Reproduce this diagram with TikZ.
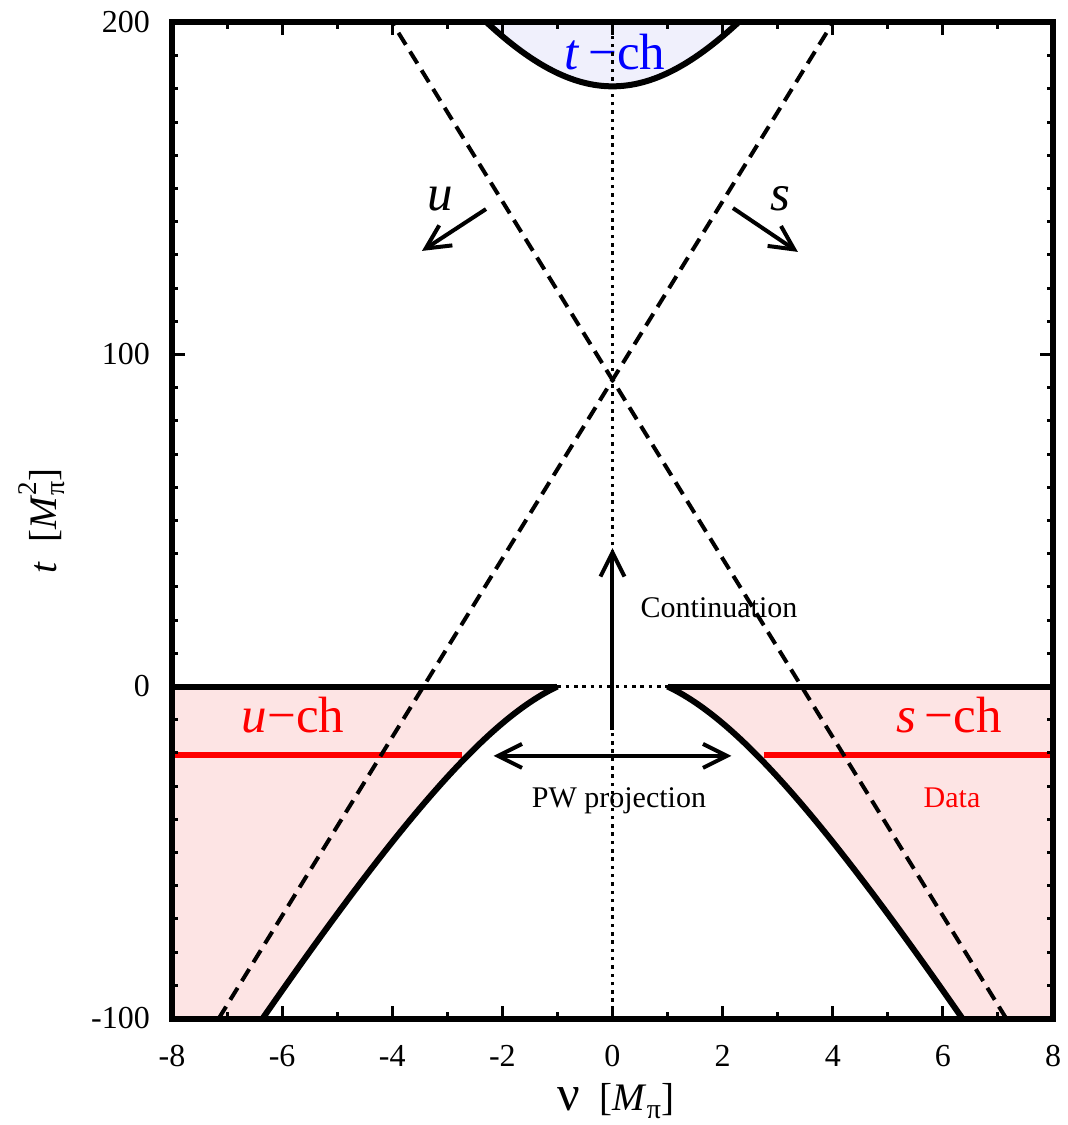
\documentclass[tikz,border=0pt]{standalone}
\usepackage{fontspec}
\setmainfont{Liberation Serif}
\usetikzlibrary{arrows.meta}
\definecolor{pinkfill}{RGB}{253,228,228}
\definecolor{bluefill}{RGB}{240,240,252}
\begin{document}
\begin{tikzpicture}[x=55.0625pt,y=3.32pt,line join=miter,
  bnd/.style={line width=6pt},
  dsh/.style={line width=4pt,dash pattern=on 14pt off 8pt},
  dtt/.style={line width=3.5pt,dash pattern=on 3.5pt off 4.8pt},
  arr/.style={line width=4pt,-{Straight Barb[length=24pt,width=24pt,line width=4pt]}},
  dblarr/.style={line width=4pt,{Straight Barb[length=24pt,width=24pt,line width=4pt]}-{Straight Barb[length=24pt,width=24pt,line width=4pt]}},
  ticklab/.style={inner sep=0pt,font=\fontsize{32}{32}\selectfont},
  chlab/.style={inner sep=0pt,anchor=base,font=\fontsize{51}{51}\selectfont},
  smalllab/.style={inner sep=0pt,anchor=base,font=\fontsize{30}{30}\selectfont},
  axlab/.style={inner sep=0pt,font=\fontsize{39}{39}\selectfont},
  redline/.style={red,line width=5.5pt},
  axisline/.style={line width=6pt}]
\useasboundingbox (-11.1237,-132.078) rectangle (8.2724,206.777);

\begin{scope}
\clip (-8,-100) rectangle (8,200);
% fills
\fill[pinkfill] (1,0) -- (8,0) -- (8,-100) -- (6.355,-100)
  -- plot[domain=6.355:1,samples=80] (\x,{92.386-2*sqrt(1953.0+180.77*\x*\x)}) -- cycle;
\fill[pinkfill] (-1,0) -- (-8,0) -- (-8,-100) -- (-6.355,-100)
  -- plot[domain=-6.355:-1,samples=80] (\x,{92.386-2*sqrt(1953.0+180.77*\x*\x)}) -- cycle;
\fill[bluefill] plot[domain=-2.35:2.35,samples=80] (\x,{92.386+2*sqrt(1953.0+180.77*\x*\x)}) -- cycle;

% texts
\node[chlab,blue] (tch) at (0.045,185.7) {\textit{t}\,−ch};
\node[chlab,red] (uch) at (-5.803,-14.0) {\textit{u}−ch};
\node[chlab,red] (sch) at (6.111,-14.0) {\textit{s}\,−ch};
\node[smalllab,red] (data) at (6.166,-36.3) {Data};
\node[smalllab] (pw) at (0.118,-36.3) {PW projection};
\node[smalllab] (cont) at (1.934,20.9) {Continuation};
\node[chlab] (ul) at (-3.133,143.5) {\textit{u}};
\node[chlab] (sl) at (3.042,143.5) {\textit{s}};

% red data lines
\draw[redline] (-8,-20.7) -- (-2.74,-20.7);
\draw[redline] (2.75,-20.7) -- (8,-20.7);

% dashed lines s=0, u=0
\draw[dsh] (-7.151,-100) -- (4.0025,200);
\draw[dsh] (7.151,-100) -- (-4.0025,200);

% dotted lines
\draw[dtt] (0,-100) -- (0,200);
\draw[dtt] (-1,0) -- (1,0);

% boundaries
\draw[bnd] plot[domain=1:6.6,samples=80] (\x,{92.386-2*sqrt(1953.0+180.77*\x*\x)});
\draw[bnd] plot[domain=-6.6:-1,samples=80] (\x,{92.386-2*sqrt(1953.0+180.77*\x*\x)});
\draw[bnd] plot[domain=-2.35:2.35,samples=80] (\x,{92.386+2*sqrt(1953.0+180.77*\x*\x)});
\draw[bnd] (-8,0) -- (-1,0);
\draw[bnd] (1,0) -- (8,0);
\end{scope}

% arrows
\coordinate (c1) at (0,-13);
\coordinate (c2) at (0,41.7);
\draw[arr] (c1) -- (c2);
\coordinate (p1) at (-2.16,-20.9);
\coordinate (p2) at (2.16,-20.9);
\draw[dblarr] (p1) -- (p2);
\coordinate (u1) at (-2.297,143.8);
\coordinate (u2) at (-3.46,131.2);
\draw[arr] (u1) -- (u2);
\coordinate (s1) at (2.188,144.1);
\coordinate (s2) at (3.367,130.9);
\draw[arr] (s1) -- (s2);

% axes frame and ticks
\draw[axisline] (-8,-100) rectangle (8,200);
\foreach \v in {-8,-6,...,8} {
  \draw[line width=3pt] (\v,-100) -- ++(0pt,13pt);
  \draw[line width=3pt] (\v,200) -- ++(0pt,-13pt);
}
\foreach \v in {-7,-5,...,7} {
  \draw[line width=3pt] (\v,-100) -- ++(0pt,6.5pt);
  \draw[line width=3pt] (\v,200) -- ++(0pt,-6.5pt);
}
\foreach \tv in {-90,-80,...,190} {
  \draw[line width=3pt] (-8,\tv) -- ++(6pt,0pt);
  \draw[line width=3pt] (8,\tv) -- ++(-6pt,0pt);
}
\foreach \tv in {0,100} {
  \draw[line width=3pt] (-8,\tv) -- ++(13pt,0pt);
  \draw[line width=3pt] (8,\tv) -- ++(-13pt,0pt);
}

% tick labels
\foreach \tv in {200,100,0,-100} {
  \node[ticklab,anchor=east] at ([xshift=-22pt]-8,\tv) {\tv};
}
\foreach \v in {-8,-6,...,8} {
  \node[ticklab,anchor=north] at ([yshift=-26.5pt]\v,-100) {\v};
}

% axis labels
\node[axlab,anchor=base] (xl) at (0.06,-127.6) {{\fontsize{50}{50}\selectfont ν}\enspace[\textit{M}\raisebox{-0.22em}{\fontsize{28}{28}\selectfont π}]};
\node[axlab,rotate=90] (yl) at (-10.36,49.8) {\textit{t}\enspace[\textit{M}\rlap{\raisebox{0.5em}{\fontsize{27}{27}\selectfont 2}}\raisebox{-0.22em}{\fontsize{28}{28}\selectfont π}]};
\end{tikzpicture}
\end{document}
